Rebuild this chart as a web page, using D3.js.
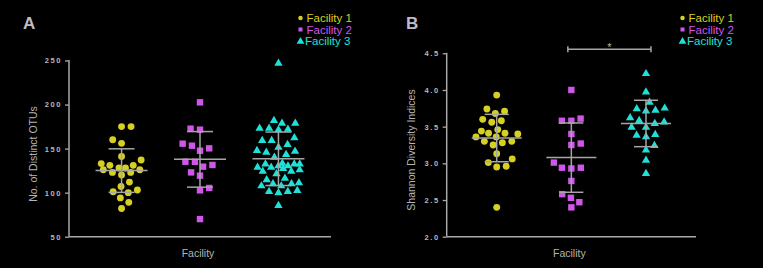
<!DOCTYPE html>
<html>
<head>
<meta charset="utf-8">
<script src="https://cdn.jsdelivr.net/npm/d3@7"></script>
<style>
  body { margin: 0; background: #000; }
  svg { display: block; font-family: "Liberation Sans", Arial, sans-serif; }
  .tick-label { fill: #b8b8b8; font-size: 7.5px; font-weight: bold; letter-spacing: 1.6px; }
  .axis-title { fill: #b4b4b4; font-size: 10.5px; }
  .panel-letter { fill: #c0bac4; font-size: 17px; font-weight: bold; }
  .axis-line { stroke: #a9a9a9; stroke-width: 1.5; fill: none; }
  .err { stroke: #a6a6a6; stroke-width: 1.5; fill: none; }
</style>
</head>
<body>
<div id="container"></div>
<script>
const width = 763, height = 268;

// categories / series
const facilities = ["Facility 1", "Facility 2", "Facility 3"];
const colors = ["#d6d022", "#d056ea", "#20e0d8"];
const shapes = [d3.symbolCircle, d3.symbolSquare, d3.symbolTriangle];

// panel A: number of distinct OTUs
const otuF1 = [175, 175, 160, 156, 141, 137, 133, 131, 128, 126, 123, 120, 123, 126, 128, 131,
  112, 107, 103, 100, 101, 94, 89, 82];
const otuF2 = [202.5, 172.6, 171.5, 155.6, 153.3, 150.3, 147.6, 135.1, 135, 129.5, 131.4, 123,
  119.3, 105.3, 102.6, 70];
const otuF3 = [247.5, 182.5, 179.4, 179.4, 173.8, 171.9, 172.6, 173.8, 162.8, 159.8, 159.8, 155.3,
  152.2, 148.4, 146.5, 147.6, 143.9, 140.8, 133, 133, 131, 129.5, 128, 125, 125, 126.5, 129.5, 131,
  133, 134, 122, 117, 115.2, 111.8, 110.6, 110.6, 108.3, 108.3, 103, 101.9, 100.4, 101.9, 86];
const otuTicks = [50, 100, 150, 200, 250];

// panel B: Shannon diversity
const shF1 = [3.93, 3.71, 3.68, 3.74, 3.58, 3.56, 3.60, 3.46, 3.41, 3.40, 3.36, 3.30, 3.28, 3.30,
  3.36, 3.41, 3.44, 3.25, 3.13, 3.06, 3.01, 2.96, 2.95, 2.40];
const shF2 = [4.00, 3.61, 3.58, 3.58, 3.40, 3.25, 3.27, 3.01, 2.94, 2.93, 2.94, 2.76, 2.58, 2.53,
  2.47, 2.40];
const shF3 = [4.23, 3.98, 3.84, 3.76, 3.73, 3.72, 3.75, 3.63, 3.59, 3.55, 3.57, 3.50, 3.50, 3.39,
  3.37, 3.40, 3.25, 3.19, 3.05, 2.87];
const shTicks = [2.0, 2.5, 3.0, 3.5, 4.0, 4.5];

// significance bracket between facility 2 and 3 in panel B
const sigPair = ["Facility 2", "Facility 3"];
const sigLabel = "*";

const svg = d3.select("#container").append("svg")
  .attr("width", width).attr("height", height);
svg.append("rect").attr("width", width).attr("height", height).attr("fill", "#000");

// beeswarm: lowest values first, each point goes to the free spot closest to center.
// if a point would land too far out, the spacing is squeezed (like prism does)
function swarm(values, y, dists, maxHalf) {
  const order = d3.range(values.length).sort((a, b) => values[a] - values[b]);
  const placed = [];
  const xs = [];
  let side = 1;
  function spot(py, dist) {
    const blocks = placed
      .filter(p => Math.abs(p.y - py) < dist)
      .map(p => { const h = Math.sqrt(dist * dist - (p.y - py) ** 2); return [p.x - h, p.x + h]; });
    const cands = [0];
    blocks.forEach(b => cands.push(b[0], b[1]));
    cands.sort((a, b) => (Math.abs(a) - Math.abs(b)) || side * (b - a));
    return cands.find(c => blocks.every(b => c <= b[0] + 1e-6 || c >= b[1] - 1e-6));
  }
  order.forEach(i => {
    const py = y(values[i]);
    let x;
    for (const d of dists) {
      x = spot(py, d);
      if (Math.abs(x) <= maxHalf) break;
    }
    if (x !== 0) side = -side;
    placed.push({x: x, y: py});
    xs[i] = x;
  });
  return xs;
}

function panel(opt) {
  const g = svg.append("g");
  const x = d3.scalePoint().domain(facilities).range([opt.x0, opt.x1]).padding(0.67);
  const y = d3.scaleLinear().domain(opt.domain).range([opt.yBottom, opt.yTop]);

  // y axis
  const yAxis = g.append("g").attr("transform", `translate(${opt.x0},0)`)
    .call(d3.axisLeft(y).tickValues(opt.ticks).tickSize(4).tickPadding(3).tickFormat(opt.fmt));
  yAxis.select(".domain").remove();
  yAxis.selectAll(".tick line").attr("stroke", "#a9a9a9").attr("stroke-width", 1.3);
  yAxis.selectAll(".tick text").attr("class", "tick-label").attr("fill", null)
    .attr("font-size", null).attr("font-family", null);
  g.append("line").attr("class", "axis-line")
    .attr("x1", opt.x0).attr("x2", opt.x0).attr("y1", opt.yTop - 0.5).attr("y2", opt.yBottom);
  g.append("line").attr("class", "axis-line")
    .attr("x1", opt.x0).attr("x2", opt.x1).attr("y1", opt.yBottom).attr("y2", opt.yBottom);

  g.append("text").attr("class", "axis-title")
    .attr("transform", `translate(${opt.titleX},${opt.titleY}) rotate(-90)`)
    .attr("text-anchor", "middle").attr("dy", "0.35em").text(opt.yTitle);
  g.append("text").attr("class", "axis-title")
    .attr("x", (opt.x0 + opt.x1) / 2 - 2).attr("y", 257).attr("text-anchor", "middle").text("Facility");

  g.append("text").attr("class", "panel-letter").attr("x", opt.letterX).attr("y", 29).text(opt.letter);

  opt.series.forEach((vals, k) => {
    const cx = x(facilities[k]);
    const m = d3.mean(vals), sd = d3.deviation(vals);
    const xs = swarm(vals, y, [9.5, 8.5, 7.5, 6.5, 5.5, 4.8], 22);
    const sym = d3.symbol().type(shapes[k]).size(k === 2 ? 30 : k === 1 ? 41 : 37);
    g.append("g").selectAll("path").data(vals).join("path")
      .attr("d", sym)
      .attr("fill", colors[k])
      .attr("transform", (d, i) => `translate(${cx + xs[i]},${y(d) + (k === 2 ? 0.6 : 0)})`);

    const eb = g.append("g").attr("class", "err");
    eb.append("line").attr("x1", cx).attr("x2", cx).attr("y1", y(m - sd)).attr("y2", y(m + sd));
    eb.append("line").attr("x1", cx - opt.meanW).attr("x2", cx + opt.meanW).attr("y1", y(m)).attr("y2", y(m));
    [m - sd, m + sd].forEach(v => {
      eb.append("line").attr("x1", cx - opt.capW).attr("x2", cx + opt.capW).attr("y1", y(v)).attr("y2", y(v));
    });
  });

  // legend
  const leg = g.append("g").attr("transform", `translate(${opt.legX},0)`);
  facilities.forEach((f, k) => {
    const ly = 18 + k * 11.5;
    leg.append("path")
      .attr("d", d3.symbol().type(shapes[k]).size(k === 2 ? 26 : 16)())
      .attr("transform", `translate(0,${ly + (k === 2 ? 0.5 : 0)})`)
      .attr("fill", colors[k]);
    leg.append("text").attr("x", k === 2 ? 4.5 : 6).attr("y", ly).attr("dy", "0.36em")
      .attr("fill", colors[k]).attr("font-size", "11.5px").text(f);
  });

  return {g, x, y};
}

panel({
  letter: "A", letterX: 23, x0: 69, x1: 331, yTop: 60.5, yBottom: 236.7,
  domain: [50, 250], ticks: otuTicks, fmt: d3.format("d"),
  yTitle: "No. of Distinct OTUs", titleX: 33, titleY: 154,
  series: [otuF1, otuF2, otuF3], meanW: 26, capW: 13, legX: 300.5
});

const pB = panel({
  letter: "B", letterX: 406, x0: 446.7, x1: 696, yTop: 53.3, yBottom: 236.7,
  domain: [2, 4.5], ticks: shTicks, fmt: d3.format(".1f"),
  yTitle: "Shannon Diversity Indices", titleX: 411, titleY: 150,
  series: [shF1, shF2, shF3], meanW: 25, capW: 12, legX: 682.5
});

// significance bracket
const bx1 = pB.x(sigPair[0]) - 3.5, bx2 = pB.x(sigPair[1]) + 5, by = 49.3;
const br = pB.g.append("g").attr("class", "err");
br.append("line").attr("x1", bx1).attr("x2", bx2).attr("y1", by).attr("y2", by);
br.append("line").attr("x1", bx1).attr("x2", bx1).attr("y1", by - 3).attr("y2", by + 3);
br.append("line").attr("x1", bx2).attr("x2", bx2).attr("y1", by - 3).attr("y2", by + 3);
pB.g.append("text").attr("x", (bx1 + bx2) / 2).attr("y", 51).attr("text-anchor", "middle")
  .attr("fill", "#b4b4b4").attr("font-size", "11px").text(sigLabel);
</script>
</body>
</html>
